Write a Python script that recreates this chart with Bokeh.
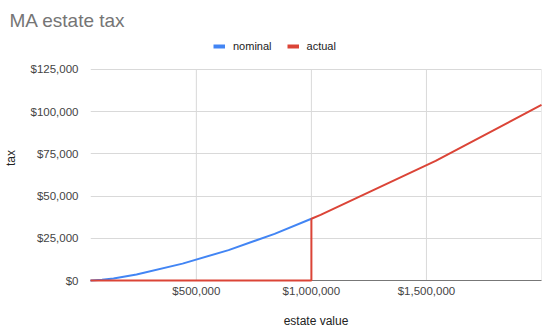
from bokeh.plotting import figure
from bokeh.models import Range1d, FixedTicker, NumeralTickFormatter, Legend, LegendItem
from bokeh.embed import file_html
from bokeh.resources import INLINE

# Data (estate value breakpoints and tax)
nominal_x = [40000, 90000, 140000, 240000, 440000, 640000, 840000, 1000000]
nominal_y = [0, 400, 1200, 3600, 10000, 18000, 27600, 36560]
actual_x = [40000, 1000000, 1000000, 1040000, 1540000, 2000000]
actual_y = [0, 0, 36560, 38800, 70800, 103920]
x_ticks = [500000, 1000000, 1500000]
x_grid = [500000, 1000000, 1500000, 2000000]
y_ticks = [0, 25000, 50000, 75000, 100000, 125000]

FONT = "Liberation Sans"
BLUE = "#4285F4"
RED = "#DB4437"
GRID = "#d9d9d9"

# frame extends above the top tick to leave room for the legend
p = figure(width=550, height=335, output_backend="svg", toolbar_location=None,
           x_range=Range1d(40000, 2000000), y_range=Range1d(0, 145000),
           min_border_left=89, min_border_right=9, min_border_top=35, min_border_bottom=55)
p.outline_line_color = None
p.background_fill_color = "white"
p.border_fill_color = "white"

p.title.text = "MA estate tax"
p.title.text_font = FONT
p.title.text_font_size = "19px"
p.title.text_font_style = "normal"
p.title.text_color = "#757575"
p.title.offset = -81
p.title.standoff = 9

# vertical grid lines limited to the tick range
p.segment(x0=x_grid, y0=[y_ticks[0]] * len(x_grid), x1=x_grid, y1=[y_ticks[-1]] * len(x_grid),
          line_color=GRID, line_width=1)

r1 = p.line(nominal_x, nominal_y, line_color=BLUE, line_width=2, level="overlay")
r2 = p.line(actual_x, actual_y, line_color=RED, line_width=2, level="overlay")
l1 = p.line([nominal_x[0]], [nominal_y[0]], line_color=BLUE, line_width=4)
l2 = p.line([actual_x[0]], [actual_y[0]], line_color=RED, line_width=4)

legend = Legend(items=[LegendItem(label="nominal", renderers=[l1]),
                       LegendItem(label="actual", renderers=[l2])],
                orientation="horizontal", location=(123, 228),
                label_text_font=FONT, label_text_font_size="11px", label_text_color="#222222",
                glyph_width=12, glyph_height=10, label_standoff=8, spacing=15,
                padding=0, margin=0, border_line_color=None, background_fill_alpha=0)
p.add_layout(legend, "center")

p.xaxis.ticker = FixedTicker(ticks=x_ticks)
p.yaxis.ticker = FixedTicker(ticks=y_ticks)
p.xaxis.formatter = NumeralTickFormatter(format="$0,0")
p.yaxis.formatter = NumeralTickFormatter(format="$0,0")
p.xgrid.grid_line_color = None
p.ygrid.ticker = FixedTicker(ticks=y_ticks)
p.ygrid.grid_line_color = GRID
p.ygrid.grid_line_width = 1

for ax in (p.xaxis, p.yaxis):
    ax.major_tick_line_color = None
    ax.minor_tick_line_color = None
    ax.major_label_text_font = FONT
    ax.major_label_text_font_size = "11.5px"
    ax.major_label_text_color = "#444444"
    ax.axis_label_text_font = FONT
    ax.axis_label_text_font_size = "12px"
    ax.axis_label_text_font_style = "normal"
    ax.axis_label_text_color = "#222222"

p.xaxis.axis_label = "estate value"
p.yaxis.axis_label = "tax"
p.xaxis.axis_line_color = "#777777"
p.yaxis.axis_line_color = None
p.xaxis.major_label_standoff = -2
p.yaxis.major_label_standoff = 6
p.xaxis.axis_label_standoff = 14
p.yaxis.axis_label_standoff = 10

open("out.html", "w").write(file_html(p, INLINE))
